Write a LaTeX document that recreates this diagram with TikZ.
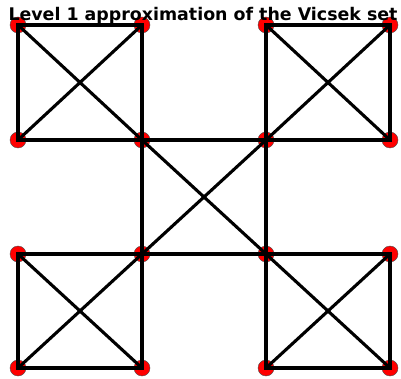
\documentclass[tikz,border=0pt]{standalone}
\usepackage{fontspec}
\setmainfont{DejaVu Sans}
\begin{document}
\begin{tikzpicture}[x=1pt,y=-1pt,
  vtx/.style={circle,fill=red,draw=black!70,line width=0.4pt,minimum size=16pt,inner sep=0pt},
  edge/.style={draw=black,line width=3.1pt}]
\useasboundingbox (0,0) rectangle (401,379);
% vertices
\foreach \i/\x in {0/18,1/142,2/266,3/390}{
  \foreach \j/\y in {0/25,1/140,2/254,3/368}{
    \node[vtx] (v\i\j) at (\x,\y) {};
  }
}
\node[font=\bfseries\fontsize{17.4}{20}\selectfont,anchor=base] (title) at (203,21) {Level 1 approximation of the Vicsek set};
% squares
\foreach \a/\b in {0/0,2/0,1/1,0/2,2/2}{
  \pgfmathtruncatemacro{\c}{\a+1}
  \pgfmathtruncatemacro{\d}{\b+1}
  \draw[edge] (v\a\b.center) -- (v\c\b.center) -- (v\c\d.center) -- (v\a\d.center) -- cycle;
  \draw[edge] (v\a\b.center) -- (v\c\d.center);
  \draw[edge] (v\c\b.center) -- (v\a\d.center);
}
\end{tikzpicture}
\end{document}
